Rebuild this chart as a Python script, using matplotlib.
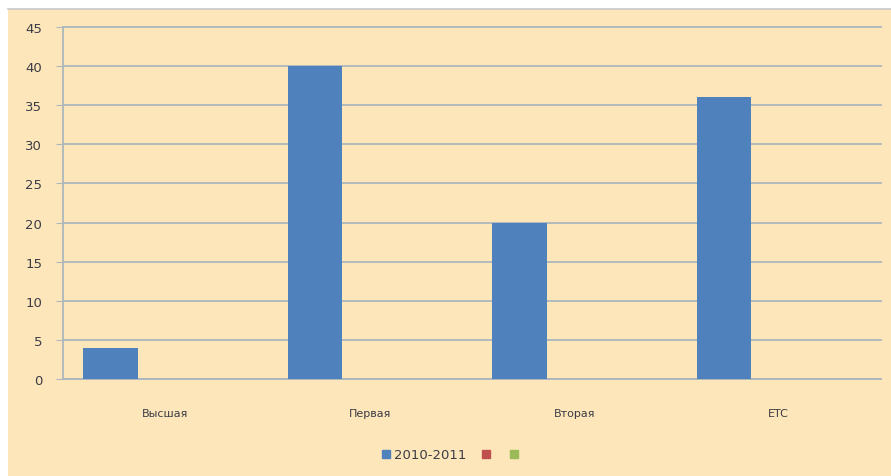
import matplotlib.pyplot as plt
from matplotlib.patches import Rectangle
from matplotlib.lines import Line2D
import numpy as np

categories = ['Высшая', 'Первая', 'Вторая', 'ETC']
series_names = ['2010-2011', '', '']
values_2010 = [4, 40, 20, 36]
values_s2 = [0, 0, 0, 0]
values_s3 = [0, 0, 0, 0]
series_colors = ['#4F81BD', '#C0504D', '#9BBB59']

bg = '#FDE6BA'
grid_col = '#ADB7BD'
text_col = '#3C3C46'

fig = plt.figure(figsize=(8.91, 4.77), dpi=100)
fig.patch.set_facecolor('white')
fig.patches.append(Rectangle((8 / 891, 0), 1 - 8 / 891, 467 / 477,
                             transform=fig.transFigure, facecolor=bg,
                             edgecolor='none', zorder=-10))
fig.add_artist(Line2D([8 / 891, 1], [467.5 / 477, 467.5 / 477],
                      transform=fig.transFigure, color='#C8C8C8', lw=1.2))

ax = fig.add_axes([63 / 891, 1 - 380 / 477, (881 - 63) / 891, (380 - 28) / 477])
ax.set_facecolor(bg)

x = np.arange(len(categories))
w = 1 / 3.75
for k, vals in enumerate([values_2010, values_s2, values_s3]):
    ax.bar(x + (k - 1) * w, vals, width=w, color=series_colors[k],
           label=series_names[k], zorder=3)

ax.set_xlim(-0.5, len(categories) - 0.5)
ax.set_ylim(0, 45)
ax.set_yticks(range(0, 46, 5))
ax.yaxis.grid(True, color=grid_col, lw=1.3)
for gl in ax.get_ygridlines():
    gl.set_clip_on(False)
ax.set_axisbelow(True)
for s in ['top', 'right']:
    ax.spines[s].set_visible(False)
ax.spines['left'].set_color(grid_col)
ax.spines['bottom'].set_color(grid_col)
ax.spines['left'].set_linewidth(1.3)
ax.spines['bottom'].set_linewidth(1.3)

ax.set_xticks(x)
ax.set_xticklabels(categories, fontsize=8, color=text_col)
ax.tick_params(axis='x', length=0, pad=21)
ax.tick_params(axis='y', length=5, color=grid_col, labelsize=9.5,
               labelcolor=text_col, pad=10)

handles = [Rectangle((0, 0), 1, 1, color=c) for c in series_colors]
leg = fig.legend(handles, series_names, loc='center', ncol=3,
                 bbox_to_anchor=(452 / 891, 1 - 456 / 477), frameon=False,
                 fontsize=9.5, handlelength=0.6, handleheight=0.6,
                 handletextpad=0.3, columnspacing=1.2)
for t in leg.get_texts():
    t.set_color(text_col)

fig.savefig('out.png', dpi=100, facecolor=fig.get_facecolor())
